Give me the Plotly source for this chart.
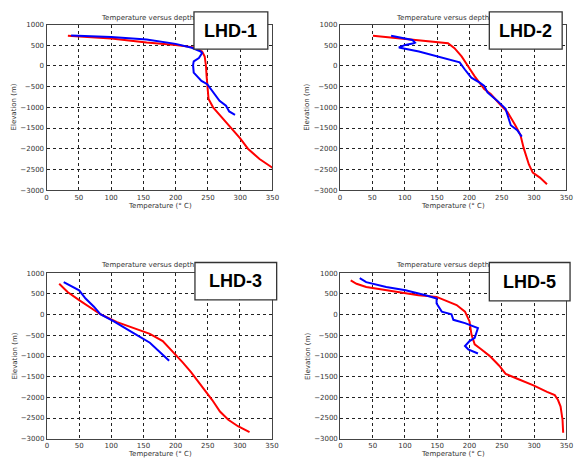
import plotly.graph_objects as go

# Well temperature profiles: red = measured/reference profile, blue = second profile
wells = ["LHD-1", "LHD-2", "LHD-3", "LHD-5"]

lhd1_red_t = [33, 60, 100, 155, 200, 228, 241, 245, 247, 248, 249, 251, 258, 272, 287, 300, 312, 330, 350]
lhd1_red_z = [730, 705, 665, 570, 510, 450, 350, 230, 0, -250, -500, -800, -1000, -1250, -1500, -1750, -2000, -2250, -2460]
lhd1_blue_t = [38, 55, 100, 155, 200, 225, 239, 241, 236, 228, 227, 228, 240, 249, 257, 268, 278, 283, 292]
lhd1_blue_z = [740, 730, 700, 640, 535, 440, 350, 310, 190, 110, 20, -160, -360, -440, -600, -840, -960, -1100, -1180]

lhd2_red_t = [51, 167, 177, 188, 198, 208, 223, 233, 249, 259, 271, 279, 284, 292, 298, 309, 320]
lhd2_red_z = [731, 549, 430, 232, -6, -244, -560, -679, -956, -1115, -1432, -1669, -1986, -2382, -2580, -2699, -2857]
lhd2_blue_t = [79, 112, 116, 114, 101, 91, 122, 152, 172, 185, 193, 203, 216, 223, 228, 243, 256, 264, 274, 281]
lhd2_blue_z = [731, 628, 564, 548, 509, 446, 350, 232, 137, 89, -85, -283, -402, -481, -640, -838, -1036, -1432, -1550, -1709]

lhd3_red_t = [19, 32, 50, 68, 83, 109, 134, 160, 180, 195, 211, 224, 236, 246, 257, 269, 282, 297, 315]
lhd3_red_z = [747, 549, 350, 168, 10, -180, -323, -465, -640, -877, -1154, -1392, -1630, -1828, -2065, -2343, -2541, -2699, -2842]
lhd3_blue_t = [26, 50, 60, 73, 83, 104, 134, 160, 190]
lhd3_blue_z = [786, 588, 390, 192, 10, -164, -442, -679, -1115]

lhd5_red_t = [16, 25, 40, 86, 121, 149, 162, 180, 193, 200, 203, 208, 218, 231, 246, 256, 274, 299, 320, 332, 337, 341, 344, 345]
lhd5_red_z = [826, 747, 667, 549, 469, 430, 350, 232, 73, -164, -481, -719, -838, -996, -1234, -1432, -1550, -1709, -1867, -1947, -2065, -2224, -2541, -2857]
lhd5_blue_t = [30, 40, 71, 101, 132, 149, 149, 157, 172, 175, 193, 213, 208, 200, 193, 198, 213]
lhd5_blue_z = [881, 786, 667, 588, 469, 390, 271, 73, 10, -125, -204, -323, -560, -640, -759, -838, -940]

profiles = [
    (lhd1_red_t, lhd1_red_z, lhd1_blue_t, lhd1_blue_z),
    (lhd2_red_t, lhd2_red_z, lhd2_blue_t, lhd2_blue_z),
    (lhd3_red_t, lhd3_red_z, lhd3_blue_t, lhd3_blue_z),
    (lhd5_red_t, lhd5_red_z, lhd5_blue_t, lhd5_blue_z),
]

panel_title = "Temperature versus depth"
x_title = "Temperature (° C)"
y_title = "Elevation (m)"

W, H = 580, 466
# plot-area pixel boxes (left, right, top, bottom)
boxes = [(45.3, 274.7, 21, 189.3), (343.3, 573.3, 21, 189.3),
         (45.7, 274.3, 274, 442.3), (343.7, 573.3, 274, 442.3)]
# label box pixel positions (left, right, top, bottom)
label_boxes = [(195, 270, 8, 46), (495, 569, 8, 46), (196, 279, 263, 301), (495, 577, 263, 302)]
title_centers = [(148, 14), (447, 14), (148, 266), (447, 266)]

def px(x):
    return x / W

def py(y):
    return 1 - y / H

fig = go.Figure()
layout = dict(width=W, height=H, margin=dict(l=0, r=0, t=0, b=0),
              paper_bgcolor="white", plot_bgcolor="white", showlegend=False)
annotations = []
shapes = []
small_font = dict(family="DejaVu Sans", size=7, color="#333")


def note(text, x, y, font, angle=0):
    return dict(text=text, xref="paper", yref="paper", x=px(x), y=py(y),
                xanchor="center", yanchor="middle", showarrow=False,
                textangle=angle, font=font)


for i, (rt, rz, bt, bz) in enumerate(profiles):
    n = "" if i == 0 else str(i + 1)
    xa, ya = "x" + n, "y" + n
    l, r, t, b = boxes[i]
    fig.add_trace(go.Scatter(x=rt, y=rz, mode="lines", xaxis=xa, yaxis=ya,
                             line=dict(color="#ff0000", width=2)))
    fig.add_trace(go.Scatter(x=bt, y=bz, mode="lines", xaxis=xa, yaxis=ya,
                             line=dict(color="#0000ff", width=2)))
    axis_common = dict(showline=True, mirror=True, linecolor="#444", linewidth=1.3,
                       showgrid=True, gridcolor="#222", gridwidth=1, griddash="dot",
                       zeroline=False, ticks="", tickfont=small_font, fixedrange=True)
    layout["xaxis" + n] = dict(axis_common, domain=[px(l), px(r)], range=[0, 350],
                               dtick=50, tick0=0, anchor=ya)
    layout["yaxis" + n] = dict(axis_common, domain=[py(b), py(t)], range=[-3000, 1000],
                               dtick=500, tick0=0, anchor=xa, tickformat="d")
    cx = (l + r) / 2
    cy = (t + b) / 2
    annotations.append(note(x_title, cx, b + 16, small_font))
    annotations.append(note(y_title, l - 33, cy, small_font, angle=-90))
    tx, ty = title_centers[i]
    annotations.append(note(panel_title, tx, ty, small_font))
    bl, br, bt_, bb = label_boxes[i]
    shapes.append(dict(type="rect", xref="paper", yref="paper",
                       x0=px(bl), x1=px(br), y0=py(bb), y1=py(bt_),
                       fillcolor="white", line=dict(color="#333", width=1.3), layer="above"))
    annotations.append(note("<b>" + wells[i] + "</b>", (bl + br) / 2, (bt_ + bb) / 2,
                            dict(family="Liberation Sans, Arial", size=18, color="black")))

layout["annotations"] = annotations
layout["shapes"] = shapes
fig.update_layout(**layout)
fig.write_html("out.html")
